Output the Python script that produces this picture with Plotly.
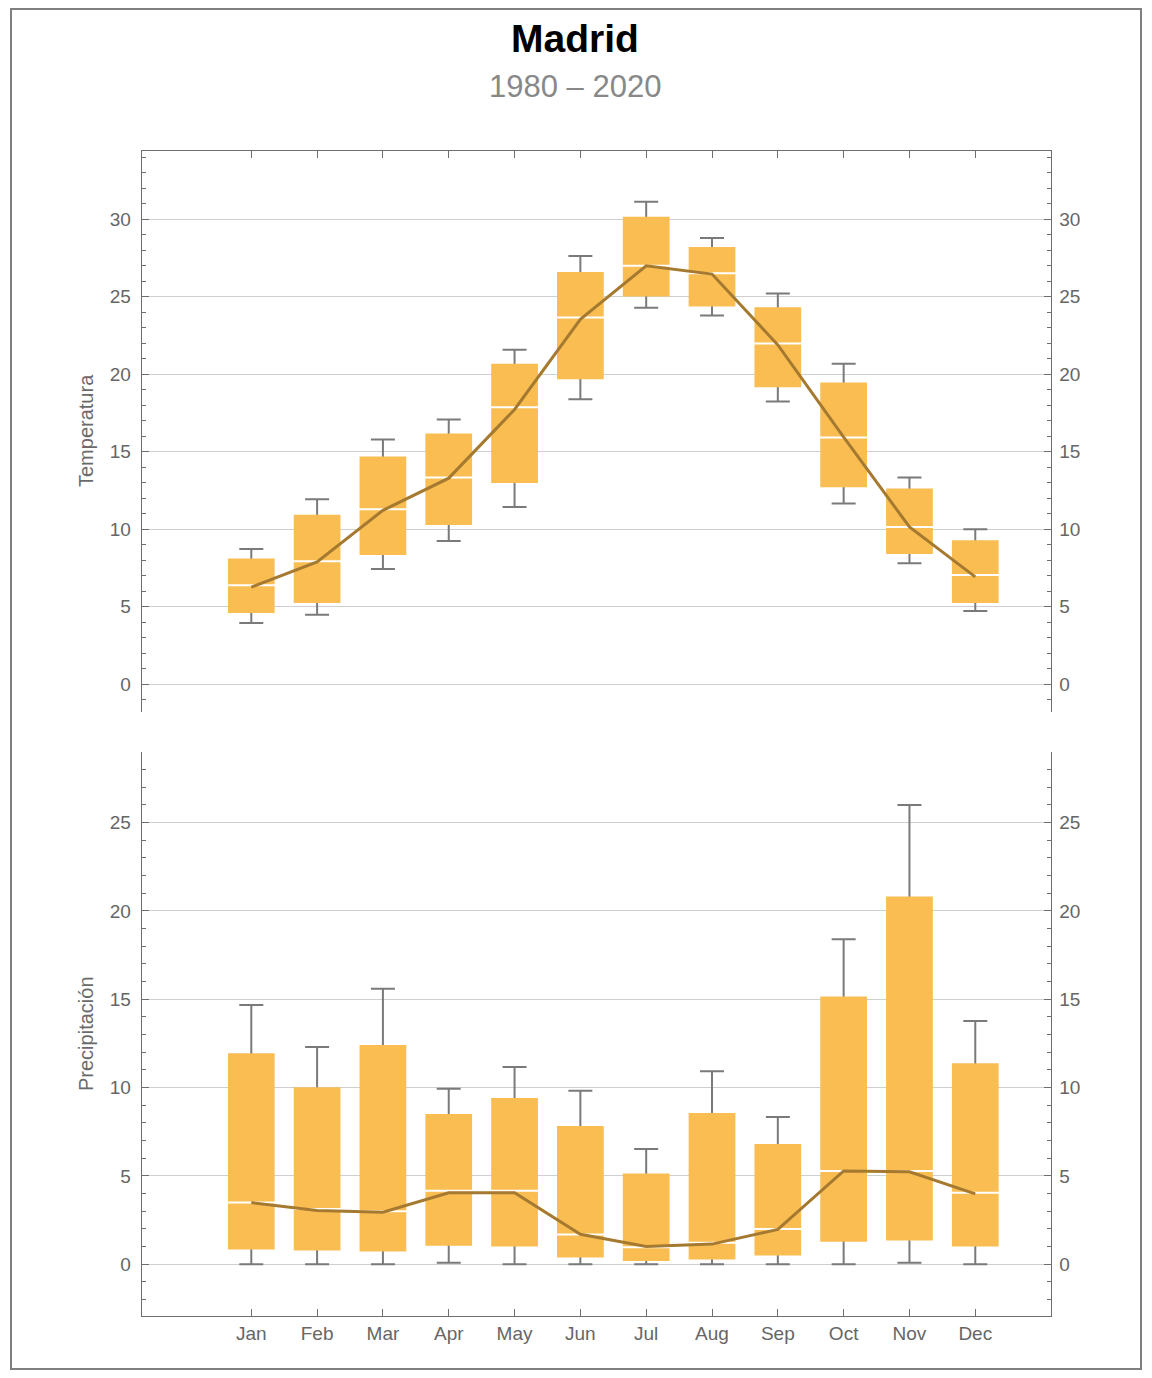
import plotly.graph_objects as go

months = ["Jan", "Feb", "Mar", "Apr", "May", "Jun",
          "Jul", "Aug", "Sep", "Oct", "Nov", "Dec"]

# temperatura (box stats + media)
temp_lo = [3.96, 4.48, 7.43, 9.24, 11.44, 18.39, 24.30, 23.80, 18.25, 11.67, 7.81, 4.72]
temp_q1 = [4.60, 5.24, 8.34, 10.27, 12.99, 19.68, 25.02, 24.37, 19.16, 12.72, 8.41, 5.24]
temp_med = [6.39, 7.93, 11.29, 13.34, 17.87, 23.66, 27.00, 26.52, 21.99, 15.92, 10.15, 7.05]
temp_q3 = [8.12, 10.94, 14.70, 16.18, 20.68, 26.61, 30.16, 28.21, 24.33, 19.47, 12.63, 9.29]
temp_hi = [8.72, 11.94, 15.80, 17.08, 21.59, 27.64, 31.14, 28.80, 25.21, 20.68, 13.34, 10.00]
temp_mean = [6.27, 7.89, 11.22, 13.30, 17.73, 23.55, 27.00, 26.47, 21.90, 15.95, 10.15, 6.93]

# precipitacion
prec_lo = [0, 0, 0, 0.09, 0, 0, 0, 0, 0, 0, 0.09, 0]
prec_q1 = [0.83, 0.78, 0.72, 1.05, 1.00, 0.38, 0.18, 0.27, 0.49, 1.27, 1.34, 1.00]
prec_med = [3.49, 3.13, 3.00, 4.16, 4.16, 1.68, 0.96, 1.21, 1.99, 5.28, 5.28, 4.05]
prec_q3 = [11.94, 10.02, 12.41, 8.50, 9.41, 7.83, 5.14, 8.56, 6.80, 15.16, 20.82, 11.38]
prec_hi = [14.67, 12.30, 15.59, 9.93, 11.16, 9.82, 6.53, 10.93, 8.34, 18.40, 26.00, 13.77]
prec_mean = [3.49, 3.04, 2.95, 4.05, 4.05, 1.70, 1.00, 1.14, 1.97, 5.28, 5.23, 3.98]

W, H = 1152, 1378
FONT = "Liberation Sans, Arial, sans-serif"
BOX = "#F9BD52"
MEAN = "#A57A30"
WHISK = "#7a7a7a"
AX = "#6e6e6e"
LBL = "#666666"

fig = go.Figure()


def add_panel(lo, q1, med, q3, hi, mean, xa, ya_main, ya_over):
    # whiskers on the base axis so the boxes (overlay axis) sit on top
    fig.add_trace(go.Scatter(
        x=months, y=med, mode="markers", xaxis=xa, yaxis=ya_main,
        marker=dict(size=1, color="rgba(0,0,0,0)"),
        error_y=dict(type="data", symmetric=False,
                     array=[h - m for h, m in zip(hi, med)],
                     arrayminus=[m - l for m, l in zip(med, lo)],
                     color=WHISK, thickness=2, width=12),
        hoverinfo="skip", showlegend=False))
    fig.add_trace(go.Bar(
        x=months, y=[b - a for a, b in zip(q1, q3)], base=q1, width=0.71,
        xaxis=xa, yaxis=ya_over, marker=dict(color=BOX, line=dict(width=0)),
        hoverinfo="skip", showlegend=False))
    fig.add_trace(go.Scatter(
        x=months, y=med, mode="markers", xaxis=xa, yaxis=ya_over,
        marker=dict(symbol="line-ew", size=45, line=dict(width=2, color="white")),
        hoverinfo="skip", showlegend=False))
    fig.add_trace(go.Scatter(
        x=months, y=mean, mode="lines", xaxis=xa, yaxis=ya_over,
        line=dict(color=MEAN, width=3),
        hoverinfo="skip", showlegend=False))


add_panel(temp_lo, temp_q1, temp_med, temp_q3, temp_hi, temp_mean, "x", "y", "y3")
add_panel(prec_lo, prec_q1, prec_med, prec_q3, prec_hi, prec_mean, "x2", "y2", "y4")

xdom = [141.7 / W, 1051.3 / W]
top_dom = [1 - 712.3 / H, 1 - 150.7 / H]
bot_dom = [1 - 1316 / H, 1 - 752.3 / H]
xrange = [-1.665, 12.155]
top_range = [-1.81, 34.43]
bot_range = [-2.93, 28.98]

xcommon = dict(type="category", categoryorder="array", categoryarray=months,
               range=xrange, domain=xdom, showline=True, linecolor=AX, linewidth=1.2,
               ticks="inside", ticklen=7, tickcolor=AX, showgrid=False, zeroline=False,
               tickfont=dict(family=FONT, size=19, color=LBL), fixedrange=True)


def yaxis(dom, rng, side, grid, overlay=None, anchor="x"):
    d = dict(domain=dom, range=rng, side=side, anchor=anchor,
             tick0=0, dtick=5, ticks="inside", ticklen=7, tickcolor=AX,
             showline=True, linecolor=AX, linewidth=1.2, zeroline=False,
             showgrid=grid, gridcolor="#cfcfcf", gridwidth=1,
             minor=dict(dtick=1, tick0=0, ticks="inside", ticklen=4, tickcolor=AX, showgrid=False),
             tickfont=dict(family=FONT, size=19, color=LBL),
             ticklabelstandoff=6 if side == "left" else 3, fixedrange=True)
    if overlay:
        d["overlaying"] = overlay
    return d


fig.update_layout(
    width=W, height=H,
    margin=dict(l=0, r=0, t=0, b=0),
    paper_bgcolor="white", plot_bgcolor="rgba(0,0,0,0)",
    barmode="overlay", showlegend=False,
    xaxis=dict(xcommon, side="top", anchor="y", showticklabels=False),
    xaxis2=dict(xcommon, side="bottom", anchor="y2", showticklabels=True),
    yaxis=yaxis(top_dom, top_range, "left", True),
    yaxis3=yaxis(top_dom, top_range, "right", False, overlay="y"),
    yaxis2=yaxis(bot_dom, bot_range, "left", True, anchor="x2"),
    yaxis4=yaxis(bot_dom, bot_range, "right", False, overlay="y2", anchor="x2"),
)

fig.add_shape(type="rect", xref="paper", yref="paper",
              x0=11 / W, x1=1141 / W, y0=1 - 1369 / H, y1=1 - 9 / H,
              line=dict(color="#808080", width=2))


def label(text, x, y, size, color, angle=0):
    fig.add_annotation(text=text, x=x / W, y=1 - y / H, xref="paper", yref="paper",
                       xanchor="center", yanchor="middle", textangle=angle,
                       showarrow=False, font=dict(family=FONT, size=size, color=color))


label("<b>Madrid</b>", 575, 38, 39, "black")
label("1980 – 2020", 575, 87, 31, "#888888")
label("Temperatura", 86, 431, 20, "#6a6a6a", -90)
label("Precipitación", 86, 1034, 20, "#6a6a6a", -90)

# drop the default page margin so the figure sits at the window origin
fig.write_html("out.html", config={"displayModeBar": False},
               post_script="document.body.style.margin='0';")
